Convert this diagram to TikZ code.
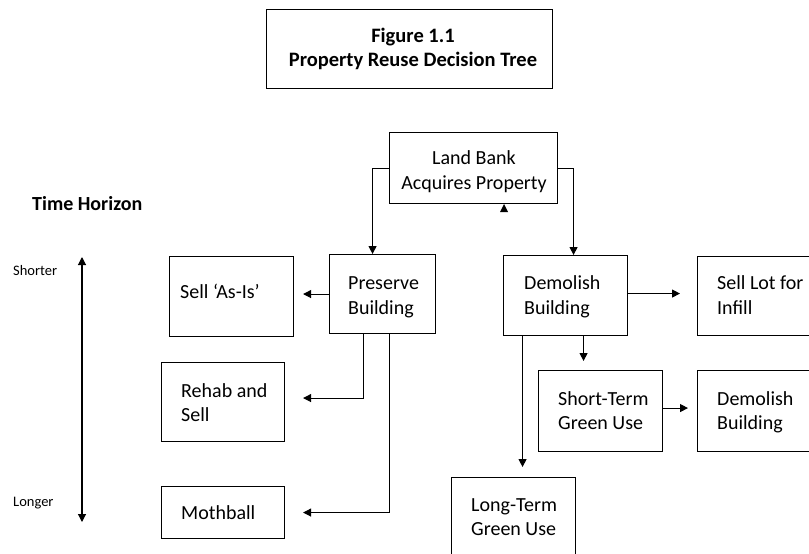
\documentclass[tikz,border=0pt]{standalone}
\usepackage{fontspec}
\setmainfont{Carlito}
\usetikzlibrary{arrows.meta,calc}
\begin{document}
\begin{tikzpicture}[x=1pt,y=-1pt,
  box/.style={draw=black,line width=1.1pt,rectangle,inner sep=0pt,anchor=north west},
  txt/.style={anchor=base west,inner sep=0pt,font=\fontsize{20}{25}\selectfont},
  ttl/.style={inner sep=0pt,font=\bfseries\fontsize{20.5}{24}\selectfont,align=center},
  small/.style={anchor=base west,inner sep=0pt,font=\fontsize{14.5}{17}\selectfont},
  arr/.style={line width=1.1pt,-{Triangle[length=8pt,width=8pt]}},
  dbl/.style={line width=1.1pt,{Triangle[length=8pt,width=8pt]}-{Triangle[length=8pt,width=8pt]}}]
\useasboundingbox (0,0) rectangle (809,554);
\clip (0,0) rectangle (809,554);
\fill[white] (0,0) rectangle (809,554);
% boxes
\node[box,minimum width=286pt,minimum height=79pt] (title) at (266,9) {};
\node[box,minimum width=168pt,minimum height=71pt] (lb) at (389,132) {};
\node[box,minimum width=124pt,minimum height=80pt] (sell) at (169,256) {};
\node[box,minimum width=106pt,minimum height=79pt] (pres) at (329,254) {};
\node[box,minimum width=124pt,minimum height=80pt] (dem) at (503,255) {};
\node[box,minimum width=130pt,minimum height=79pt] (lot) at (697,256) {};
\node[box,minimum width=123pt,minimum height=79pt] (rehab) at (161,362) {};
\node[box,minimum width=123pt,minimum height=52pt] (moth) at (161,486) {};
\node[box,minimum width=124pt,minimum height=81pt] (short) at (538,370) {};
\node[box,minimum width=130pt,minimum height=81pt] (demb) at (697,370) {};
\node[box,minimum width=124pt,minimum height=100pt] (long) at (451,477) {};
% texts
\node[ttl] (titletext) at (413,48.5) {Figure 1.1\\Property Reuse Decision Tree};
\node[inner sep=0pt,font=\fontsize{20}{25}\selectfont,align=center] (lbtext) at (474,172) {Land Bank\\Acquires Property};
\node[anchor=base west,inner sep=0pt,font=\bfseries\fontsize{20}{25}\selectfont] (th) at (32,210) {Time Horizon};
\node[small] (shorter) at (13,275) {Shorter};
\node[small] (longer) at (13,506) {Longer};
\node[txt] (t1) at (180,298.5) {Sell ‘As-Is’};
\node[txt] (t2a) at (348,289.5) {Preserve};
\node[txt] (t2b) at (348,314.5) {Building};
\node[txt] (t3a) at (524,289.5) {Demolish};
\node[txt] (t3b) at (524,314.5) {Building};
\node[txt] (t4a) at (717,289.5) {Sell Lot for};
\node[txt] (t4b) at (717,314.5) {Infill};
\node[txt] (t5a) at (181,397) {Rehab and};
\node[txt] (t5b) at (181,421.5) {Sell};
\node[txt] (t6) at (181,519) {Mothball};
\node[txt] (t7a) at (558,405) {Short-Term};
\node[txt] (t7b) at (558,429.5) {Green Use};
\node[txt] (t8a) at (717,405) {Demolish};
\node[txt] (t8b) at (717,429.5) {Building};
\node[txt] (t9a) at (471,511) {Long-Term};
\node[txt] (t9b) at (471,535.5) {Green Use};
% connectors
\draw[arr] (lb.west) -| ([xshift=-10pt]pres.north);
\draw[arr] (lb.east) -| ([xshift=8pt]dem.north);
\draw[arr,shorten >=9pt] (pres.west) -- (pres.west -| sell.east);
\draw[arr,shorten >=18pt] ([xshift=-19pt]pres.south) |- ([yshift=4pt]rehab.east);
\draw[arr,shorten >=18pt] ([xshift=7pt]pres.south) |- (moth.east);
\draw[arr,shorten >=17pt] ([yshift=2pt]dem.east) -- ([yshift=2pt]dem.east -| lot.west);
\coordinate (dd) at ([xshift=18pt]dem.south);
\draw[arr,shorten >=9pt] (dd) -- (dd |- short.north);
\draw[arr,shorten >=9pt] ([yshift=3pt]short.east) -- ([yshift=3pt]short.east -| demb.west);
\coordinate (dl) at ([xshift=-43pt]dem.south);
\draw[arr,shorten >=10pt] (dl) -- (dl |- long.north);
% time axis
\coordinate (ttop) at (82,257);
\coordinate (tbot) at (82,522);
\draw[dbl] (ttop) -- (tbot);
% stray arrowhead below land bank
\fill (500,212) -- (508,212) -- (504,204) -- cycle;
\end{tikzpicture}
\end{document}
